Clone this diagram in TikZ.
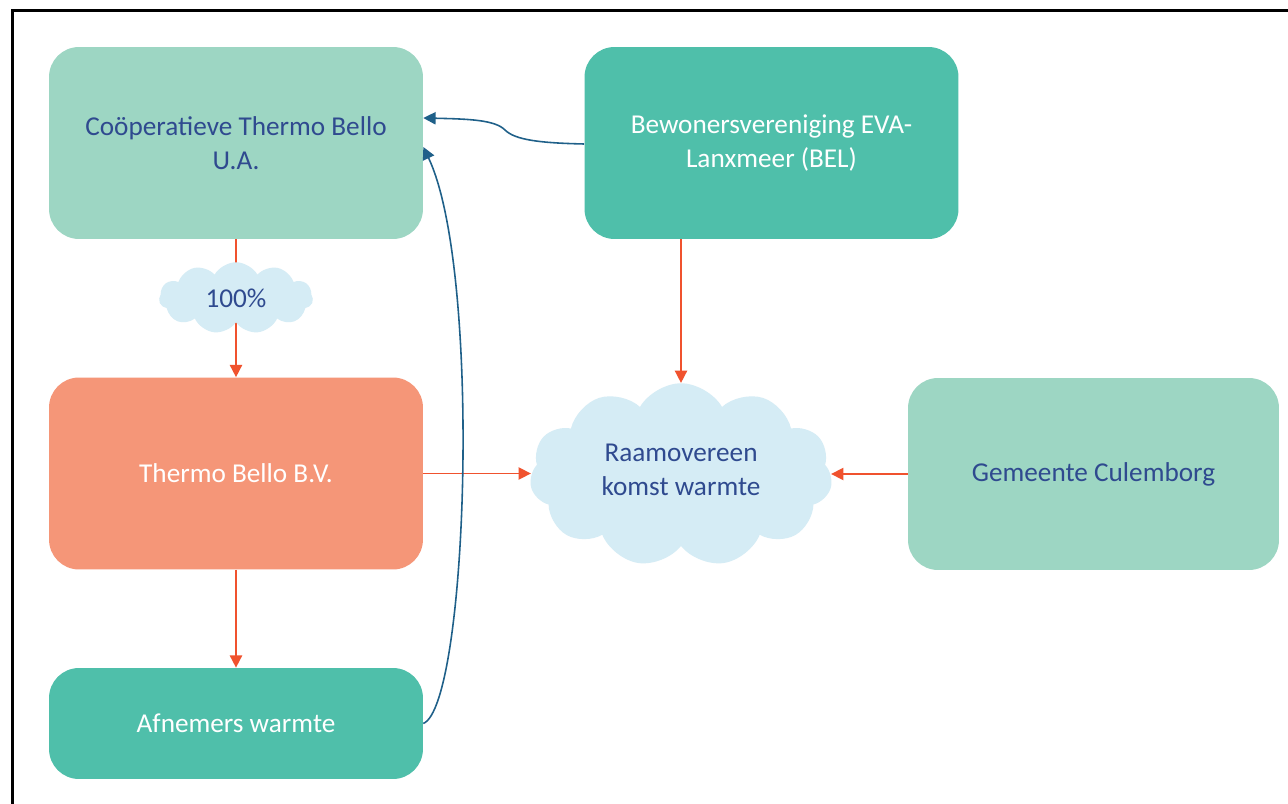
\documentclass[tikz,border=0pt]{standalone}
\usepackage{fontspec}
\setmainfont{Carlito}
\usetikzlibrary{arrows.meta,shapes.symbols}
\definecolor{lteal}{HTML}{9DD6C3}
\definecolor{dteal}{HTML}{4FBFAA}
\definecolor{salmon}{HTML}{F59678}
\definecolor{cloudc}{HTML}{D5ECF5}
\definecolor{txtblue}{HTML}{2F4A8F}
\definecolor{orarr}{HTML}{F0522E}
\definecolor{bluarr}{HTML}{1F6089}
\tikzset{
  boxbase/.style={rounded corners=0.6cm, align=center, font=\fontsize{15.5}{19.5}\selectfont, inner sep=0pt},
  bigbox/.style={boxbase, minimum width=7.48cm, minimum height=3.84cm},
  lowbox/.style={boxbase, minimum width=7.48cm, minimum height=2.22cm},
  oarrow/.style={draw=orarr, line width=0.9pt, -{Triangle[length=7pt,width=7pt]}},
  barrow/.style={draw=bluarr, line width=0.9pt, -{Triangle[length=7pt,width=7pt]}},
  cloudnode/.style={cloud, cloud puffs=11, cloud puff arc=120, fill=cloudc, draw=none, inner sep=0pt},
  cloudtext/.style={align=center, text=txtblue, font=\fontsize{15.5}{19.5}\selectfont, inner sep=0pt}
}
\begin{document}
\begin{tikzpicture}[x=0.02cm,y=-0.02cm]
\useasboundingbox (0,0) rectangle (1288,804);
\fill[white] (0,0) rectangle (1288,804);
\coordinate (bl) at (12.5,804);
\coordinate (tl) at (12.5,10.5);
\coordinate (tr) at (1288,10.5);
\draw[line width=1.3pt, line cap=rect] (bl) -- (tl) -- (tr);

\node[bigbox, fill=lteal, text=txtblue] (coop) at (236,143) {Coöperatieve Thermo Bello\\U.A.};
\node[bigbox, fill=dteal, text=white] (bew) at (771.5,143) {Bewonersvereniging EVA-\\Lanxmeer (BEL)};
\node[bigbox, fill=salmon, text=white] (tb) at (236,473.5) {Thermo Bello B.V.};
\node[lowbox, fill=dteal, text=white] (afn) at (236,723.5) {Afnemers warmte};
\node[bigbox, minimum width=7.42cm, fill=lteal, text=txtblue] (gem) at (1093.5,474) {Gemeente Culemborg};

% orange connectors
\draw[oarrow] (coop.south) -- (tb.north);
\node[cloudnode, minimum width=3.08cm, minimum height=1.43cm] (pct) at (236,298) {};
\node[cloudtext] (pcttxt) at (pct.center) {100\%};
\node[cloudnode, minimum width=6.05cm, minimum height=3.67cm] (raam) at (681,475) {};
\node[cloudtext] (raamtxt) at ([yshift=0.1cm]raam.center) {Raamovereen\\komst warmte};
\draw[oarrow] (bew.south -| raam.north) -- (raam.north);
\draw[oarrow] (tb.east) -- (tb.east -| raam.west);
\draw[oarrow] (gem.west) -- (gem.west -| raam.east);
\draw[oarrow] (tb.south) -- (afn.north);

% blue connectors
\coordinate (bewin) at ([yshift=-0.02cm]bew.west);
\coordinate (s1) at (505,130);
\draw[barrow] (bewin) .. controls (540,143) and (515,140) .. (s1) .. controls (495,120) and (470,119) .. ([yshift=0.5cm]coop.east);
\draw[barrow] (afn.east) .. controls (468,705) and (482,270) .. ([yshift=-0.08cm]coop.east);
\end{tikzpicture}
\end{document}
